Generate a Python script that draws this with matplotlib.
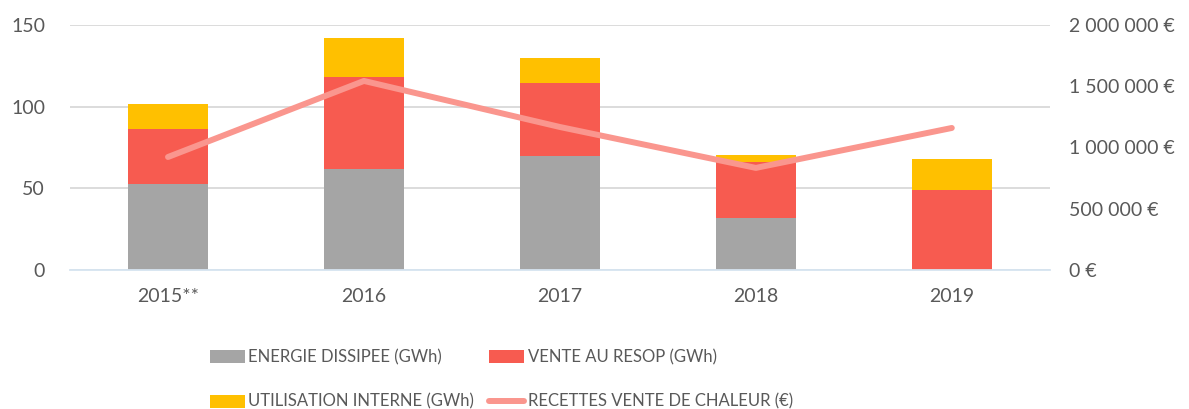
import matplotlib.pyplot as plt
from matplotlib.ticker import FuncFormatter
import numpy as np

years = ['2015**', '2016', '2017', '2018', '2019']
energie_dissipee = [52.7, 61.8, 69.8, 31.8, 0.0]
vente_resop = [33.6, 56.2, 44.7, 34.2, 49.0]
utilisation_interne = [15.3, 24.0, 15.3, 4.4, 19.0]
recettes = [922000, 1543000, 1167000, 833000, 1159000]

plt.rcParams['font.family'] = ['Lato', 'DejaVu Sans']
txt = '#595959'

fig = plt.figure(figsize=(11.89, 4.09), dpi=100)
ax = fig.add_axes([0.0589, 0.34, 0.824, 0.599])
x = np.arange(len(years))
w = 0.41

b1 = ax.bar(x, energie_dissipee, w, color='#A5A5A5', zorder=2)
bottom2 = np.array(energie_dissipee)
b2 = ax.bar(x, vente_resop, w, bottom=bottom2, color='#F75B50', zorder=2)
bottom3 = bottom2 + np.array(vente_resop)
b3 = ax.bar(x, utilisation_interne, w, bottom=bottom3, color='#FFC000', zorder=2)

ax.set_xlim(-0.5, 4.5)
ax.set_ylim(0, 150)
ax.set_yticks([0, 50, 100, 150])
ax.set_xticks(x)
ax.set_xticklabels(years)
ax.yaxis.grid(True, color='#D9D9D9', linewidth=1.3, zorder=0)
for s in ['top', 'right', 'left']:
    ax.spines[s].set_visible(False)
ax.spines['bottom'].set_color('#D6E4F0')
ax.spines['bottom'].set_linewidth(1.3)
ax.tick_params(length=0, labelsize=14, colors=txt, pad=13)
ax.tick_params(axis='y', pad=18)

ax2 = ax.twinx()
ln, = ax2.plot(x, recettes, color='#FA968E', linewidth=4.3, solid_capstyle='round', zorder=3)
ax2.set_ylim(0, 2000000)
ax2.set_yticks([0, 500000, 1000000, 1500000, 2000000])
ax2.yaxis.set_major_formatter(FuncFormatter(lambda v, p: '{:,.0f} €'.format(v).replace(',', ' ')))
for s in ax2.spines.values():
    s.set_visible(False)
ax2.tick_params(length=0, labelsize=14, colors=txt, pad=14)

fig.legend([b1, b3, b2, ln],
           ['ENERGIE DISSIPEE (GWh)', 'UTILISATION INTERNE (GWh)',
            'VENTE AU RESOP (GWh)', 'RECETTES VENTE DE CHALEUR (€)'],
           ncol=2, loc='upper left', bbox_to_anchor=(0.1766, 0.146), frameon=False,
           fontsize=12, labelcolor=txt, handlelength=2.1, handleheight=0.84, borderpad=0,
           borderaxespad=0, handletextpad=0.2, columnspacing=0.9, labelspacing=1.7)

fig.savefig('out.png', dpi=100)
